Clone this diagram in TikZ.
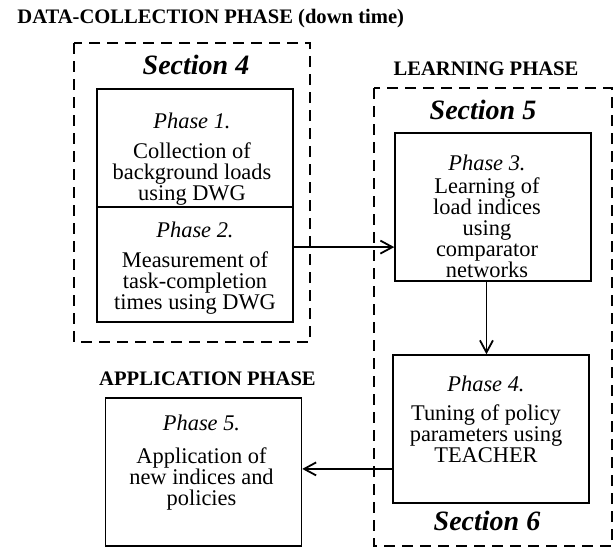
\documentclass[tikz,border=0pt]{standalone}
\usepackage{fontspec}
\setmainfont{Liberation Serif}
\usetikzlibrary{arrows.meta, positioning}

\begin{document}
\begin{tikzpicture}[
    x=0.5pt, y=-0.5pt,
    box/.style={draw, line width=0.75pt, minimum width=98pt, inner sep=0pt},
    boxtext/.style={align=center, inner sep=0pt, font=\fontsize{11.2}{10.5}\selectfont},
    phaseframe/.style={line width=0.8pt, dash pattern=on 5.5pt off 3.5pt},
    phasetitle/.style={anchor=base, inner sep=0pt, font=\fontsize{10.3}{12}\selectfont\bfseries},
    sectionlabel/.style={anchor=base, inner sep=0pt, font=\fontsize{14}{16}\selectfont\bfseries\itshape},
    flow/.style={-{Straight Barb[length=6pt,width=6.5pt,line width=0.9pt]}, line width=0.75pt}
]
    \useasboundingbox (0,0) rectangle (615,548);

    % dashed frames round each phase
    \draw[phaseframe] (74,43) rectangle (310,342);
    \draw[phaseframe] (374,88) rectangle (612,546);

    \node[phasetitle, anchor=base west] (dctitle) at (17,23) {DATA-COLLECTION PHASE (down time)};
    \node[phasetitle] (ltitle) at (486,75) {LEARNING PHASE};
    \node[phasetitle] (atitle) at (207.5,385) {APPLICATION PHASE};

    \node[sectionlabel] (s4) at (196,74) {Section 4};
    \node[sectionlabel] (s5) at (483,119) {Section 5};
    \node[sectionlabel] (s6) at (487,530) {Section 6};

    \node[box, minimum height=59pt] (p1) at (195,148) {};
    \node[box, minimum height=57.5pt] (p2) at (195,264.5) {};
    \node[box, minimum height=74pt] (p3) at (493,207) {};
    \node[box, minimum height=74pt] (p4) at (491,429) {};
    \node[box, minimum height=74pt] (p5) at (203.5,472) {};

    \node[boxtext, below=12pt of p1.north, xshift=-1.5pt] (t1)
        {\textit{Phase 1.}\\[4.5pt]Collection of\\background loads\\using DWG};
    \node[boxtext, below=7.5pt of p2.north] (t2)
        {\textit{Phase 2.}\\[4.5pt]Measurement of\\task-completion\\times using DWG};
    \node[boxtext, below=11pt of p3.north, xshift=-3pt] (t3)
        {\textit{Phase 3.}\\[1pt]Learning of\\load indices\\using\\comparator\\networks};
    \node[boxtext, below=10.5pt of p4.north, xshift=-2.5pt] (t4)
        {\textit{Phase 4.}\\[4pt]Tuning of policy\\parameters using\\TEACHER};
    \node[boxtext, below=8.5pt of p5.north, xshift=-1pt] (t5)
        {\textit{Phase 5.}\\[6pt]Application of\\new indices and\\policies};

    \draw[flow] (p2.10) -- (p2.10 -| p3.west);
    \draw[flow] (p3.-95) -- (p3.-95 |- p4.north);
    \draw[flow] (p4.202) -- (p4.202 -| p5.east);
\end{tikzpicture}
\end{document}
